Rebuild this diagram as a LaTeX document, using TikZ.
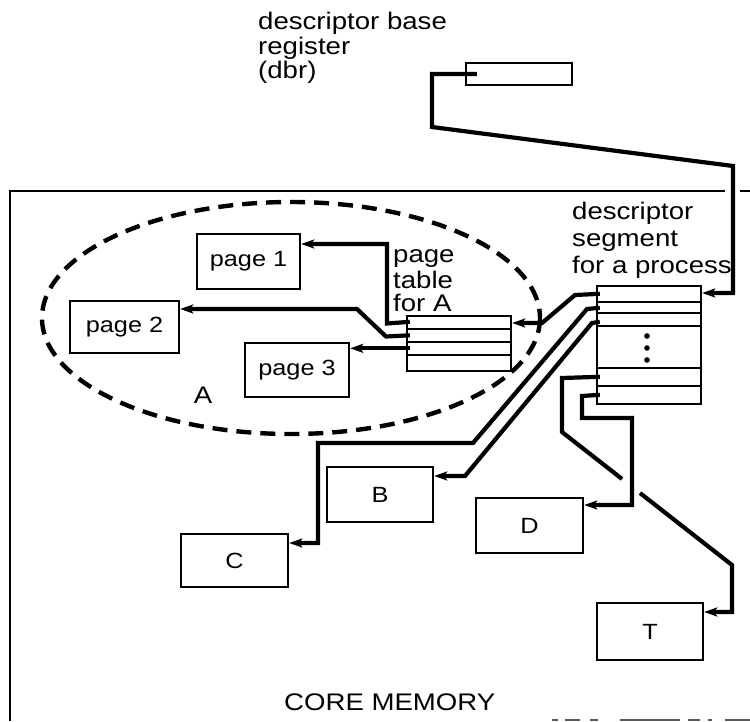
\documentclass[tikz,border=0pt]{standalone}
\usepackage{fontspec}
\setmainfont{Liberation Sans}[FakeStretch=1.15]
\usetikzlibrary{arrows.meta,calc}
\newcommand\lblfont{\fontsize{24}{27}\selectfont}
\newcommand\boxfont{\fontsize{22}{25}\selectfont}
\begin{document}
\begin{tikzpicture}[x=1pt,y=-1pt,
  box/.style={draw,line width=2.4pt,inner sep=0pt,font=\boxfont},
  rowline/.style={line width=2.1pt},
  txt/.style={inner sep=0pt,font=\lblfont},
  conn/.style={line width=4.2pt,line join=miter,line cap=butt},
  arr/.style={conn,-{Stealth[length=13pt,width=9pt,inset=3pt]}},
  frame/.style={line width=2pt},
  dashA/.style={line width=4.4pt,dash pattern=on 15pt off 9pt}]
\useasboundingbox (0,0) rectangle (750,721);
\fill[white] (0,0) rectangle (750,721);

% core memory frame
\draw[frame] (725,191) -- (10,191) -- (10,721);
\draw[frame] (740,191) -- (750,191);
\draw[line width=1.4pt,black!65] (552,720) -- (558,720) (565,720) -- (580,720) (590,720) -- (598,720)
  (620,720) -- (680,720) (688,720) -- (700,720) (708,720) -- (712,720) (725,720) -- (750,720);

% labels
\node[txt,anchor=base west] (dbrt1) at (258,29) {descriptor base};
\node[txt,anchor=base west] (dbrt2) at (258,54) {register};
\node[txt,anchor=base west] (dbrt3) at (258,78) {(dbr)};
\node[txt,anchor=base west] (dst1) at (572,219) {descriptor};
\node[txt,anchor=base west] (dst2) at (572,246) {segment};
\node[txt,anchor=base west] (dst3) at (572,273) {for a process};
\node[txt,anchor=base west] (ptt1) at (393,262) {page};
\node[txt,anchor=base west] (ptt2) at (393,288) {table};
\node[txt,anchor=base west] (ptt3) at (393,311) {for A};
\node[txt] (alab) at (203,395) {A};
\node[txt,anchor=base west] (core) at (284,710) {CORE MEMORY};

% ellipse A
\draw[dashA] (291,318) ellipse [x radius=249, y radius=116];

% boxes
\node[box,minimum width=106,minimum height=22] (dbr) at (519,74) {};
\node[box,minimum width=103,minimum height=55] (p1) at (248.5,261.5) {page 1};
\node[box,minimum width=109,minimum height=52] (p2) at (124.5,327) {page 2};
\node[box,minimum width=104,minimum height=54] (p3) at (297,370) {page 3};
\node[box,minimum width=104,minimum height=55] (pt) at (459,343.5) {};
\node[box,minimum width=104,minimum height=118] (ds) at (649,345) {};
\node[box,minimum width=106,minimum height=55] (B) at (380,494.5) {B};
\node[box,minimum width=107,minimum height=53] (C) at (234.5,560.5) {C};
\node[box,minimum width=107,minimum height=55] (D) at (529.5,525.5) {D};
\node[box,minimum width=106,minimum height=57] (T) at (650,631.5) {T};

% page table rows
\foreach \yy in {14,27,40}
  \draw[rowline] ($(pt.north west)+(0,\yy)$) -- ($(pt.north east)+(0,\yy)$);
% descriptor segment rows
\foreach \yy in {17,28,41,83,101}
  \draw[rowline] ($(ds.north west)+(0,\yy)$) -- ($(ds.north east)+(0,\yy)$);
\foreach \yy in {336,348,360}
  \fill (647,\yy) circle (2.8);

% dbr -> descriptor segment
\draw[arr] ($(dbr.west)+(12,0)$) -- (432,74) -- (432,127) -- (733,166) -- (733,293) -- (733,293 -| ds.east);

% page table -> pages
\draw[arr] ($(pt.north west)+(4,7)$) -- (387,323.5) -- (387,244) -- (387,244 -| p1.east);
\draw[arr] ($(pt.north west)+(4,20.5)$) -- (386,336.5) -- (357,309) -- (357,309 -| p2.east);
\coordinate (r3) at ($(pt.north west)+(4,33.5)$);
\draw[arr] (r3) -- (r3 -| p3.east);

% descriptor segment -> page table, B, C, D, T
\draw[arr] ($(ds.north west)+(4,9)$) -- (575,295) -- (542,323) -- (542,323 -| pt.east);
\draw[arr] ($(ds.north west)+(4,23)$) -- (587,309) -- (473,443) -- (318,443) -- (318,543) -- (318,543 -| C.east);
\draw[arr] ($(ds.north west)+(4,37)$) -- (592,323) -- (465,476) -- (465,476 -| B.east);
\coordinate (ta) at (562,432);
\coordinate (tb) at (732,565);
\draw[conn] ($(ds.north west)+(4,92)$) -- (562,378) -- (ta) -- ($(ta)!0.353!(tb)$);
\draw[arr] ($(ta)!0.459!(tb)$) -- (tb) -- (732,612) -- (732,612 -| T.east);
\draw[arr] ($(ds.north west)+(4,110)$) -- (582,396) -- (582,418) -- (632,418) -- (632,505) -- (632,505 -| D.east);
\end{tikzpicture}
\end{document}
